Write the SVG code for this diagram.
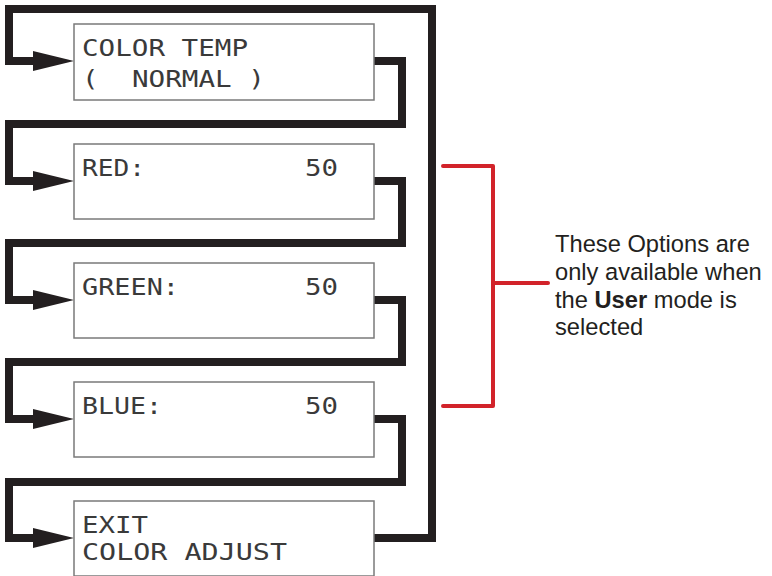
<svg xmlns="http://www.w3.org/2000/svg" xmlns:xlink="http://www.w3.org/1999/xlink" width="772" height="576" viewBox="0 0 772 576">
<style>
.box{fill:#fff;stroke:#7a7a7a;stroke-width:1.5}
.lcd{font-family:"DejaVu Sans Mono","Liberation Mono",monospace;font-size:23px;fill:#3a3a3a}
.conn{fill:none;stroke:#231f20;stroke-width:8;stroke-linejoin:miter}
.ah{fill:#231f20}
.br{fill:none;stroke:#d2232a;stroke-width:4;stroke-linecap:round;stroke-linejoin:round}
.note{font-family:"Liberation Sans",Arial,sans-serif;font-size:23.7px;fill:#231f20}
</style>
<defs>
<path id="arrow" d="M0,0 L-41,-10 L-41,10 Z"/>
</defs>
<rect width="772" height="576" fill="#fff"/>
<g id="connectors">
<path class="conn" d="M374,538 H432 V9 H9 V61 H40"/>
<path class="conn" d="M374,61 H402 V124 H9 V181 H40"/>
<path class="conn" d="M374,181 H402 V243 H9 V300 H40"/>
<path class="conn" d="M374,300 H402 V362 H9 V419 H40"/>
<path class="conn" d="M374,419 H402 V482 H9 V538 H40"/>
<use class="ah" xlink:href="#arrow" x="74" y="61"/>
<use class="ah" xlink:href="#arrow" x="74" y="181"/>
<use class="ah" xlink:href="#arrow" x="74" y="300"/>
<use class="ah" xlink:href="#arrow" x="74" y="419"/>
<use class="ah" xlink:href="#arrow" x="74" y="538"/>
</g>
<g id="node-color-temp">
<rect class="box" x="74" y="24" width="300" height="76"/>
<text class="lcd" x="82" y="56" textLength="166" lengthAdjust="spacingAndGlyphs">COLOR TEMP</text>
<text class="lcd" x="82" y="87" textLength="183" lengthAdjust="spacingAndGlyphs" xml:space="preserve">(  NORMAL )</text>
</g>
<g id="node-red">
<rect class="box" x="74" y="144" width="300" height="75"/>
<text class="lcd" x="82" y="176" textLength="63" lengthAdjust="spacingAndGlyphs">RED:</text>
<text class="lcd" x="305" y="176" textLength="33" lengthAdjust="spacingAndGlyphs">50</text>
</g>
<g id="node-green">
<rect class="box" x="74" y="263" width="300" height="75"/>
<text class="lcd" x="82" y="295" textLength="97" lengthAdjust="spacingAndGlyphs">GREEN:</text>
<text class="lcd" x="305" y="295" textLength="33" lengthAdjust="spacingAndGlyphs">50</text>
</g>
<g id="node-blue">
<rect class="box" x="74" y="382" width="300" height="75"/>
<text class="lcd" x="82" y="414" textLength="80" lengthAdjust="spacingAndGlyphs">BLUE:</text>
<text class="lcd" x="305" y="414" textLength="33" lengthAdjust="spacingAndGlyphs">50</text>
</g>
<g id="node-exit">
<rect class="box" x="74" y="501" width="300" height="75"/>
<text class="lcd" x="82" y="533" textLength="66" lengthAdjust="spacingAndGlyphs">EXIT</text>
<text class="lcd" x="82" y="560" textLength="205" lengthAdjust="spacingAndGlyphs">COLOR ADJUST</text>
</g>
<g id="bracket">
<path class="br" d="M443,166 H493 V406 H443"/>
<path class="br" d="M493,283 H548"/>
</g>
<g id="note">
<text class="note" x="555" y="252">These Options are</text>
<text class="note" x="555" y="280">only available when</text>
<text class="note" x="555" y="308">the <tspan font-weight="bold">User</tspan> mode is</text>
<text class="note" x="555" y="335">selected</text>
</g>
</svg>
